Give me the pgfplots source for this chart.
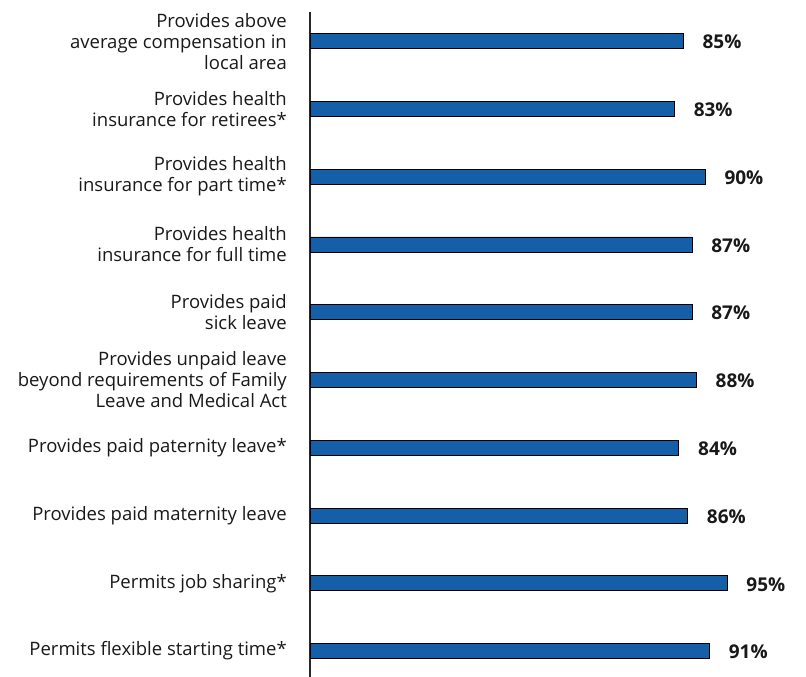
\documentclass[border=0pt]{standalone}
\usepackage{fontspec}
\setmainfont{Open Sans}
\usepackage{pgfplots}
\pgfplotsset{compat=1.18}
\definecolor{barblue}{RGB}{21,94,168}
\definecolor{axisgray}{RGB}{40,40,40}
\definecolor{txt}{RGB}{25,25,25}
\begin{document}
\begin{tikzpicture}
\path[use as bounding box] (0,0) rectangle (806bp,677bp);
\begin{axis}[
 at={(310bp,0bp)}, anchor=south west,
 scale only axis, width=439bp, height=665bp,
 xmin=0, xmax=100, ymin=-0.383, ymax=9.43,
 xbar, bar width=15bp, bar shift=0pt,
 axis x line=none, axis y line*=left,
 axis line style={axisgray, line width=2.2bp, -},
 ytick={0,...,9},
 yticklabels={
  {Permits flexible starting time*},
  {Permits job sharing*},
  {Provides paid maternity leave},
  {Provides paid paternity leave*},
  {Provides unpaid leave\\beyond requirements of Family\\Leave and Medical Act},
  {Provides paid\\sick leave},
  {Provides health\\insurance for full time},
  {Provides health\\insurance for part time*},
  {Provides health\\insurance for retirees*},
  {Provides above\\average compensation in\\local area}},
 major tick length=0pt, tick style={draw=none},
 yticklabel style={align=right, font=\fontsize{18.5bp}{21bp}\selectfont, inner sep=0pt, xshift=-23bp, text=txt},
 point meta=x,
 /pgf/number format/assume math mode=true,
 nodes near coords={\pgfmathprintnumber{\pgfplotspointmeta}\%},
 nodes near coords style={font=\fontsize{19bp}{21bp}\selectfont\bfseries, anchor=west, inner sep=0pt, xshift=19bp, yshift=-1bp, text=txt},
]
\addplot[fill=barblue, draw=black, line width=0.8bp] coordinates {(91,0) (95,1) (86,2) (84,3) (88,4) (87,5) (87,6) (90,7) (83,8) (85,9)};
\end{axis}
\end{tikzpicture}
\end{document}
